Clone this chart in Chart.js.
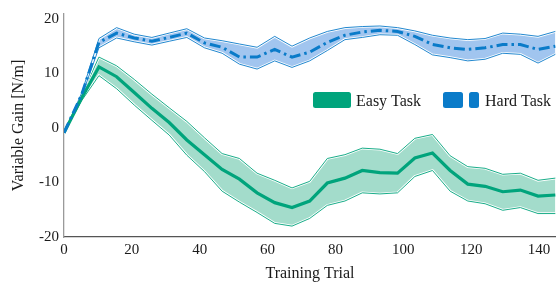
<!DOCTYPE html>
<html><head><meta charset="utf-8">
<script src="https://cdn.jsdelivr.net/npm/chart.js@4"></script>
<style>html,body{margin:0;padding:0;background:#fff;}#wrap{width:556px;height:284px;}</style>
</head><body><div id="wrap"><canvas id="c" width="556" height="284"></canvas></div>
<script>
const trials = [0,5.2,10.3,15.5,20.7,25.9,31.0,36.2,41.4,46.6,51.7,56.9,62.1,67.2,72.4,77.6,82.8,87.9,93.1,98.3,103.4,108.6,113.8,119.0,124.1,129.3,134.5,139.7,144.8];
const easyMean  = [-0.9,5.5,11.2,9.4,6.5,3.6,1.0,-2.2,-4.9,-7.6,-9.4,-11.9,-13.7,-14.6,-13.4,-10.1,-9.2,-7.8,-8.2,-8.3,-5.5,-4.6,-7.8,-10.3,-10.7,-11.7,-11.4,-12.5,-12.3];
const easyUpper = [-0.9,6.0,13.0,11.4,8.9,6.2,3.7,1.2,-1.8,-4.7,-5.6,-8.3,-9.6,-11.0,-9.8,-5.6,-4.9,-3.7,-3.9,-4.7,-1.9,-1.2,-5.1,-7.1,-7.4,-8.5,-8.3,-9.6,-9.2];
const easyLower = [-0.9,5.0,9.6,7.2,4.2,1.4,-1.3,-5.0,-8.0,-11.6,-13.6,-15.5,-17.5,-18.0,-16.6,-14.2,-13.4,-11.9,-12.1,-11.9,-8.9,-7.8,-11.6,-13.4,-13.9,-15.1,-14.6,-15.7,-15.7];
const hardMean  = [-0.9,6.1,15.7,17.4,16.5,15.9,16.6,17.4,15.6,14.8,13.0,13.0,14.4,13.0,13.9,15.7,17.0,17.6,17.9,17.7,16.8,15.3,14.7,14.4,14.7,15.3,15.3,14.4,15.0];
const hardUpper = [-0.9,6.4,16.4,18.4,17.2,16.6,17.4,18.2,16.5,16.0,15.4,14.8,16.8,15.0,16.5,17.7,18.4,18.6,18.7,18.4,17.8,17.0,16.5,16.2,16.4,17.4,17.2,16.8,17.7];
const hardLower = [-0.9,5.8,14.7,16.5,15.8,15.2,15.9,16.6,14.7,13.7,11.7,10.8,12.3,11.1,12.3,14.2,16.2,16.6,17.1,17.0,15.3,13.4,12.9,12.3,12.6,13.7,13.5,11.9,13.5];
const xTicks = [0,20,40,60,80,100,120,140];
const yTicks = [-20,-10,0,10,20];
const seriesNames = ['Easy Task','Hard Task'];

const GREEN = '#00a47c', GREEN_FILL = 'rgba(0,158,112,0.36)';
const BLUE = '#0a7bc9', BLUE_FILL = 'rgba(20,110,215,0.40)';
const FONT = "'Liberation Serif', 'DejaVu Serif', serif";

const pts = arr => arr.map((v,i)=>({x:trials[i], y:v}));
const base = {pointRadius:0, tension:0, borderJoinStyle:'miter'};

const datasets = [
  {...base, data:pts(hardMean), borderColor:BLUE, borderWidth:3, borderDash:[11,4,2.5,4], fill:false, order:0},
  {...base, data:pts(easyMean), borderColor:GREEN, borderWidth:3.2, fill:false, order:1},
  {...base, data:pts(hardUpper), borderColor:BLUE, borderWidth:0.9, fill:false, order:2},
  {...base, data:pts(hardLower), borderColor:BLUE, borderWidth:0.9, fill:false, order:2},
  {...base, data:pts(hardLower), borderColor:'#ffffff', borderWidth:2.6, fill:false, order:3},
  {...base, data:pts(hardUpper), borderColor:'#ffffff', borderWidth:2.6, backgroundColor:BLUE_FILL, fill:{target:4}, order:3},
  {...base, data:pts(easyUpper), borderColor:GREEN, borderWidth:0.9, fill:false, order:4},
  {...base, data:pts(easyLower), borderColor:GREEN, borderWidth:0.9, fill:false, order:4},
  {...base, data:pts(easyLower), borderColor:'#ffffff', borderWidth:2.6, fill:false, order:5},
  {...base, data:pts(easyUpper), borderColor:'#ffffff', borderWidth:2.6, backgroundColor:GREEN_FILL, fill:{target:8}, order:5}
];

const legendPlugin = {
  id:'customLegend',
  afterDraw(chart){
    const ctx = chart.ctx;
    ctx.save();
    const rr = (x,y,w,h,r,c)=>{ctx.fillStyle=c;ctx.beginPath();ctx.roundRect(x,y,w,h,r);ctx.fill();};
    rr(313,92,38,16,2.5,GREEN);
    rr(443,92,20,16,2.5,BLUE);
    rr(469,92,10,16,2.5,BLUE);
    ctx.fillStyle='#1a1a1a';
    ctx.font = "16px " + FONT;
    ctx.textBaseline='alphabetic';
    ctx.textAlign='left';
    ctx.fillText(seriesNames[0], 356, 106);
    ctx.fillText(seriesNames[1], 485, 106);
    ctx.restore();
  }
};

new Chart(document.getElementById('c'), {
  type:'line',
  data:{datasets},
  options:{
    responsive:false, animation:false, devicePixelRatio:1,
    layout:{padding:{top:9,right:0,left:0,bottom:0}},
    plugins:{legend:{display:false}, tooltip:{enabled:false}},
    scales:{
      x:{type:'linear', min:0, max:145,
        afterBuildTicks:s=>{s.ticks = xTicks.map(v=>({value:v}));},
        afterFit:s=>{s.height = 47;},
        grid:{display:false, drawTicks:false},
        border:{display:true, color:'#555555', width:1.3},
        ticks:{color:'#1a1a1a', font:{family:FONT, size:15}, padding:4, maxRotation:0, autoSkip:false},
        title:{display:true, text:'Training Trial', color:'#1a1a1a', font:{family:FONT, size:16}, padding:{top:0,bottom:1}}
      },
      y:{type:'linear', min:-20, max:20.9,
        afterBuildTicks:s=>{s.ticks = yTicks.map(v=>({value:v}));},
        afterFit:s=>{s.width = 64;},
        grid:{display:false, drawTicks:false},
        border:{display:true, color:'#9a9a9a', width:1.3},
        ticks:{color:'#1a1a1a', font:{family:FONT, size:15}, padding:5},
        title:{display:true, text:'Variable Gain [N/m]', color:'#1a1a1a', font:{family:FONT, size:16}, padding:{top:9,bottom:0}}
      }
    }
  },
  plugins:[legendPlugin]
});
</script></body></html>
